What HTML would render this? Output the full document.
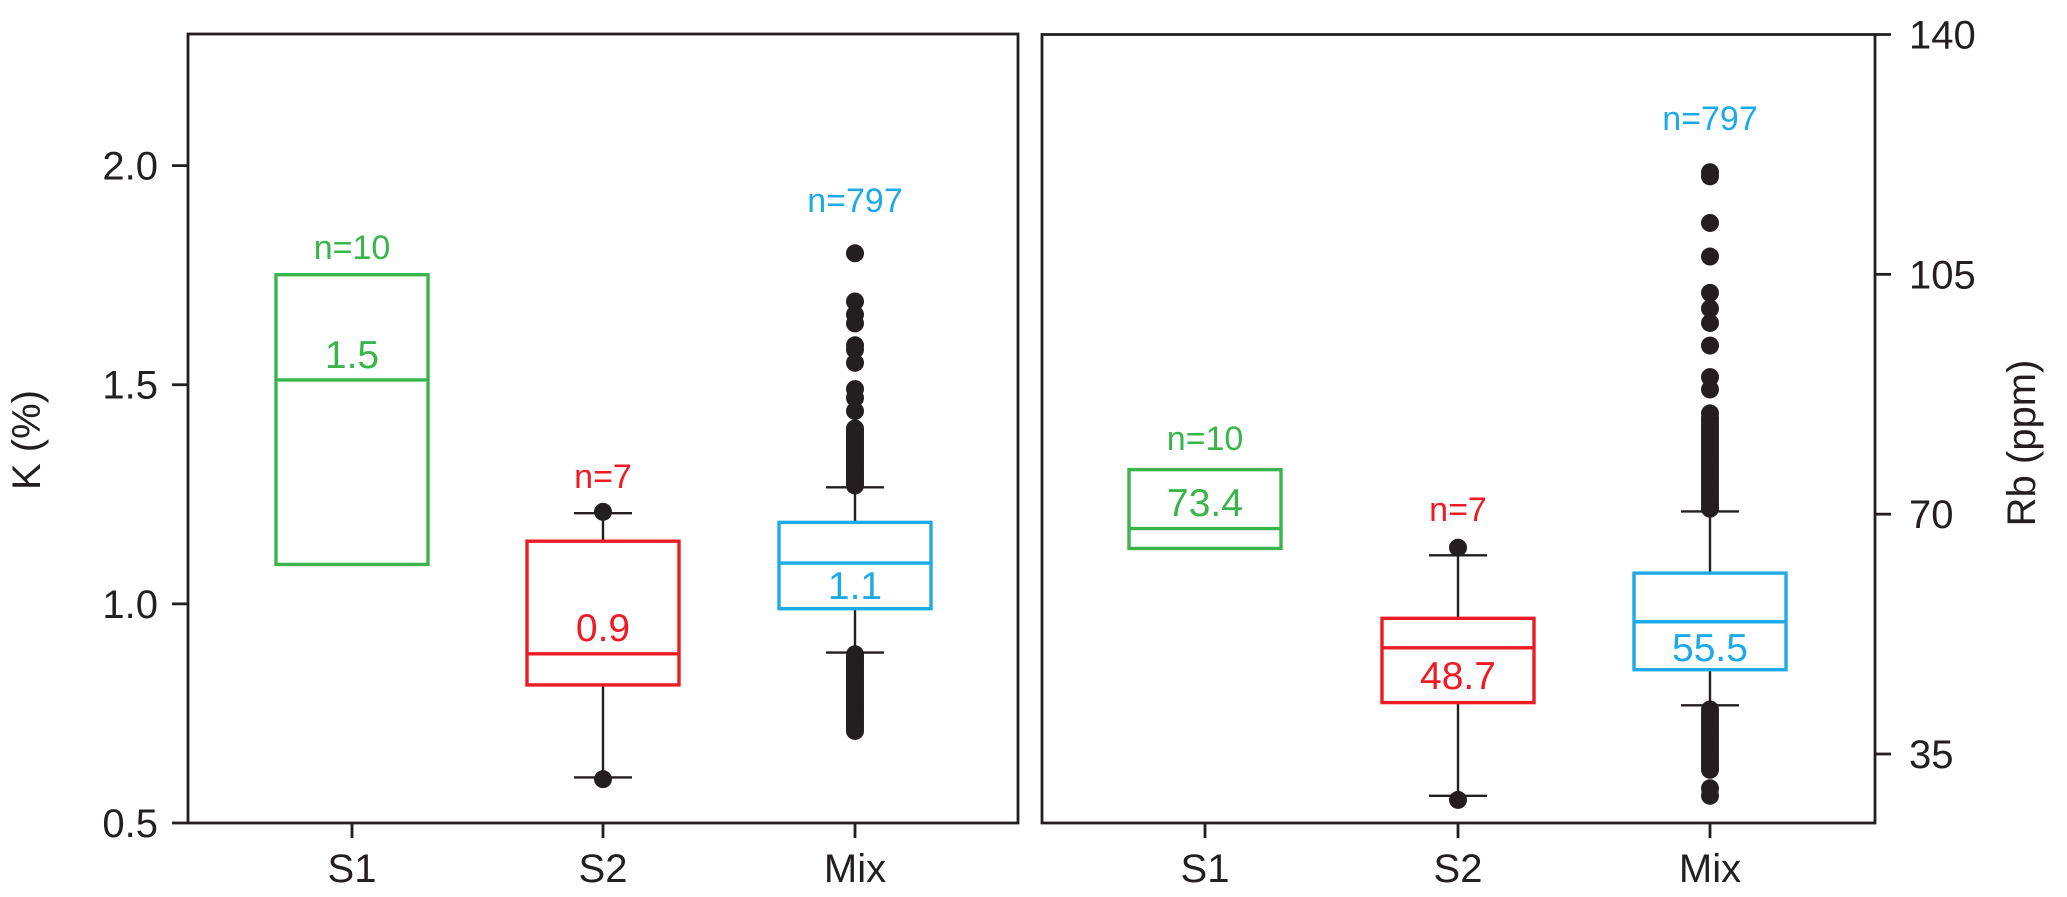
<!DOCTYPE html>
<html><head><meta charset="utf-8"><style>
html,body{margin:0;padding:0;background:#fff;}
svg{display:block;font-family:"Liberation Sans",sans-serif;}
</style></head><body>
<svg id="chart" width="2067" height="897" viewBox="0 0 2067 897" xmlns="http://www.w3.org/2000/svg"></svg>
<script>
const categories = ["S1","S2","Mix"];
const colors = ["#39b54a","#ed1c24","#1eaae7"];
const nLabels = ["n=10","n=7","n=797"];
// K panel
const kTicks = [0.5,1.0,1.5,2.0];
const kTickLabels = ["0.5","1.0","1.5","2.0"];
const kQ1 = [1.09,0.815,0.989];
const kMedian = [1.511,0.886,1.093];
const kQ3 = [1.751,1.143,1.186];
const kWhiskLo = [null,0.604,0.889];
const kWhiskHi = [null,1.207,1.266];
const kMedianLabels = ["1.5","0.9","1.1"];
const kOutliersS2 = [1.21,0.60];
const kOutliersMix = [1.80,1.69,1.66,1.64,1.59,1.58,1.55,1.49,1.47,1.44,1.40,1.395,1.39,1.385,1.38,1.375,1.37,1.365,1.36,1.355,1.35,1.345,1.34,1.335,1.33,1.325,1.32,1.315,1.31,1.305,1.30,1.295,1.29,1.285,1.28,1.275,1.27,
  0.885,0.88,0.875,0.87,0.865,0.86,0.855,0.85,0.845,0.84,0.835,0.83,0.825,0.82,0.815,0.81,0.805,0.80,0.795,0.79,0.785,0.78,0.775,0.77,0.765,0.76,0.755,0.75,0.745,0.74,0.735,0.73,0.725,0.72,0.715,0.71];
// Rb panel
const rbTicks = [35,70,105,140];
const rbTickLabels = ["35","70","105","140"];
const rbQ1 = [65.0,42.5,47.3];
const rbMedian = [67.9,50.5,54.3];
const rbQ3 = [76.5,54.8,61.4];
const rbWhiskLo = [null,28.9,42.1];
const rbWhiskHi = [null,64.0,70.4];
const rbMedianLabels = ["73.4","48.7","55.5"];
const rbOutliersS2 = [65.1,28.3];
const rbOutliersMix = [119.9,119.3,112.5,107.6,102.3,100.0,97.9,94.6,90.0,88.2,84.7,84.0,83.5,83.0,82.5,82.0,81.5,81.0,80.5,80.0,79.5,79.0,78.5,78.0,77.5,77.0,76.5,76.0,75.5,75.0,74.5,74.0,73.5,73.0,72.5,72.0,71.5,71.0,70.8,
  41.5,41.0,40.5,40.0,39.5,39.0,38.5,38.0,37.5,37.0,36.5,36.0,35.5,35.0,34.5,34.0,33.5,33.0,32.7,30.0,28.9];

const svg = document.getElementById('chart');
const NS = "http://www.w3.org/2000/svg";
function mk(tag, attrs, parent){const e=document.createElementNS(NS,tag);for(const k in attrs)e.setAttribute(k,attrs[k]);(parent||svg).appendChild(e);return e;}

function panel(cfg){
  const g = mk('g',{});
  
  
  const y = v => cfg.y0 + (v - cfg.vmin)/(cfg.vmax - cfg.vmin)*(cfg.y1 - cfg.y0);
  const fr = mk('rect',{x:cfg.x0,y:cfg.top,width:cfg.x1-cfg.x0,height:cfg.y0-cfg.top,fill:'none',stroke:'#231f20','stroke-width':2.8},g);
  
  
  cfg.ticks.forEach((t,i)=>{
    const yy=y(t);
    const ax = cfg.right ? cfg.x1 : cfg.x0;
    const dir = cfg.right ? 1 : -1;
    mk('line',{x1:ax,y1:yy,x2:ax+dir*16,y2:yy,stroke:'#231f20','stroke-width':2.8},g);
    const tx = mk('text',{x: cfg.right? ax+34 : ax-30, y:yy+14,'font-size':40,fill:'#231f20','text-anchor':cfg.right?'start':'end'},g);
    tx.textContent = cfg.tickLabels[i];
    
    
  });
  const at = mk('text',{x:0,y:0,'font-size':40,fill:'#231f20','text-anchor':'middle',transform:`translate(${cfg.titleX},${cfg.titleY}) rotate(-90)`},g);
  at.textContent = cfg.title;
  
  
  categories.forEach((c,i)=>{
    const cx = cfg.xs[i];
    mk('line',{x1:cx,y1:cfg.y0,x2:cx,y2:cfg.y0+15,stroke:'#231f20','stroke-width':2.8},g);
    const xl = mk('text',{x:cx,y:cfg.y0+59,'font-size':40,fill:'#231f20','text-anchor':'middle'},g);
    xl.textContent = c;
    
    
    const col = colors[i];
    if (cfg.wlo[i]!==null){
      mk('line',{x1:cx,y1:y(cfg.wlo[i]),x2:cx,y2:y(cfg.q1[i]),stroke:'#231f20','stroke-width':2.4},g);
      mk('line',{x1:cx,y1:y(cfg.whi[i]),x2:cx,y2:y(cfg.q3[i]),stroke:'#231f20','stroke-width':2.4},g);
      mk('line',{x1:cx-29,y1:y(cfg.wlo[i]),x2:cx+29,y2:y(cfg.wlo[i]),stroke:'#231f20','stroke-width':2.4},g);
      mk('line',{x1:cx-29,y1:y(cfg.whi[i]),x2:cx+29,y2:y(cfg.whi[i]),stroke:'#231f20','stroke-width':2.4},g);
    }
    const b = mk('rect',{x:cx-76,y:y(cfg.q3[i]),width:152,height:y(cfg.q1[i])-y(cfg.q3[i]),fill:'#fff',stroke:col,'stroke-width':3.4},g);
    
    
    const m = mk('line',{x1:cx-76,y1:y(cfg.med[i]),x2:cx+76,y2:y(cfg.med[i]),stroke:col,'stroke-width':3.4},g);
    
    
    const outs = i===1 ? cfg.outS2 : (i===2 ? cfg.outMix : []);
    outs.forEach(v=>{
      const d = mk('circle',{cx:cx,cy:y(v),r:9,fill:'#231f20'},g);
      
      
    });
    const nl = mk('text',{x:cx,y:cfg.nY[i]+12,'font-size':34,fill:col,'text-anchor':'middle'},g);
    nl.textContent = nLabels[i];
    
    
    const ml = mk('text',{x:cx,y:cfg.mY[i]+14,'font-size':39,fill:col,'text-anchor':'middle'},g);
    ml.textContent = cfg.medLabels[i];
    
    
  });
}
panel({name:'k-panel',x0:188,x1:1018,top:34,y0:823,y1:165.6,vmin:0.5,vmax:2.0,right:false,
  ticks:kTicks,tickLabels:kTickLabels,title:'K (%)',titleX:40,titleY:440,xs:[352,603,855],
  q1:kQ1,med:kMedian,q3:kQ3,wlo:kWhiskLo,whi:kWhiskHi,outS2:kOutliersS2,outMix:kOutliersMix,
  medLabels:kMedianLabels,nY:[247,476,200],mY:[354,627,585]});
panel({name:'rb-panel',x0:1042,x1:1875,top:34.5,y0:823,y1:34.5,vmin:(140-(823-34.5)/((754-34.5)/105)),vmax:140,right:true,
  ticks:rbTicks,tickLabels:rbTickLabels,title:'Rb (ppm)',titleX:2035,titleY:443,xs:[1205,1458,1710],
  q1:rbQ1,med:rbMedian,q3:rbQ3,wlo:rbWhiskLo,whi:rbWhiskHi,outS2:rbOutliersS2,outMix:rbOutliersMix,
  medLabels:rbMedianLabels,nY:[438,509,118],mY:[502,675,647]});
</script>
</body></html>
